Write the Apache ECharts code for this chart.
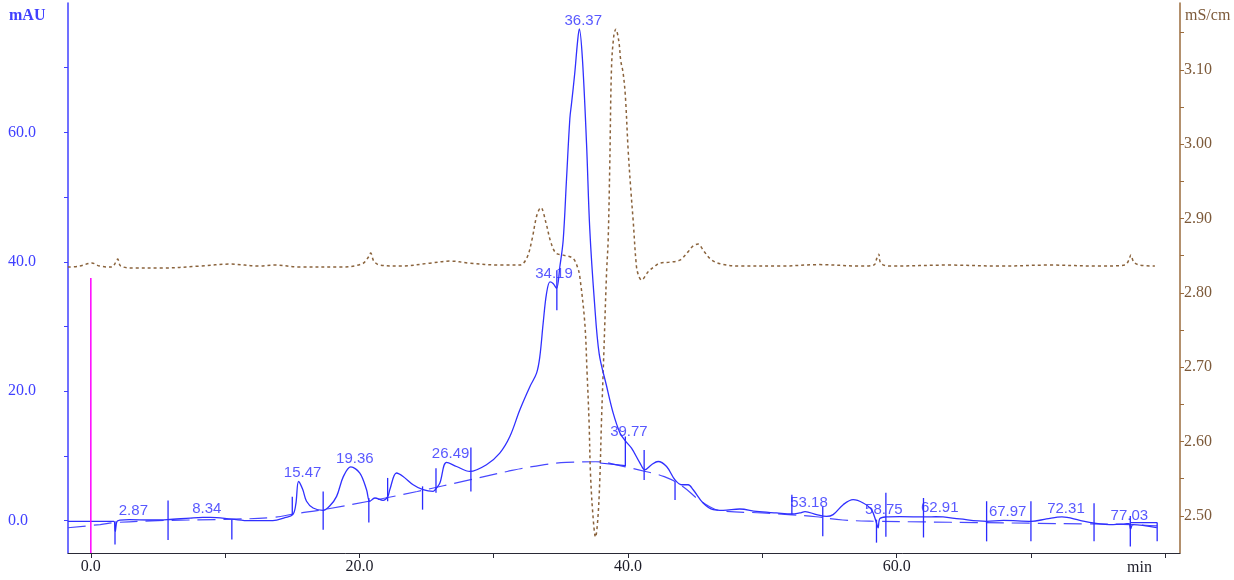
<!DOCTYPE html>
<html>
<head>
<meta charset="utf-8">
<script src="https://cdn.jsdelivr.net/npm/echarts@6/dist/echarts.min.js"></script>
<style>
  html, body { margin: 0; padding: 0; background: #ffffff; }
  #chart { width: 1234px; height: 580px; }
</style>
</head>
<body>
<div id="chart"></div>
<script>
// UV absorbance trace (min, mAU)
const uvTime = [-1.71, 1.71, 1.82, 1.94, 2.16, 2.87, 4.4, 5.7, 7.4, 8.34, 8.9, 10.5, 11.8, 13.55, 14.45, 15.04, 15.26, 15.47, 15.78, 16.06, 16.55, 17.3, 17.8, 18.3, 18.8, 19.36, 20.03, 20.53, 20.77, 21.15, 21.76, 22.11, 22.26, 22.76, 23.25, 24.0, 24.74, 25.49, 25.76, 25.99, 26.49, 27.23, 28.22, 29.46, 30.45, 31.2, 31.94, 32.69, 33.19, 33.43, 33.68, 33.93, 34.19, 34.42, 34.68, 34.92, 35.17, 35.42, 35.67, 35.79, 36.04, 36.24, 36.37, 36.6, 36.91, 37.15, 37.5, 37.85, 38.38, 38.89, 39.39, 39.77, 40.26, 40.88, 41.25, 41.75, 42.24, 42.87, 43.49, 43.98, 44.48, 44.85, 45.59, 46.34, 47.08, 48.32, 49.57, 51.06, 52.17, 52.79, 53.18, 54.04, 54.78, 55.27, 56.02, 56.76, 57.51, 58.13, 58.5, 58.62, 58.75, 59.19, 60.24, 62.25, 62.91, 63.46, 64.7, 66.69, 67.97, 70.04, 71.16, 72.31, 73.64, 74.63, 76.12, 77.03, 77.31, 77.42, 77.59, 79.37];
const uvSignal = [-0.1, -0.1, -1.65, -0.15, 0.08, 0.15, 0.1, 0.15, 0.4, 0.5, 0.5, 0.23, 0.0, 0.0, 0.46, 0.93, 2.5, 6.05, 4.8, 3.0, 1.96, 1.6, 2.3, 3.75, 6.8, 8.3, 7.36, 4.78, 2.98, 3.5, 3.13, 3.7, 4.78, 7.36, 6.83, 5.55, 4.78, 4.52, 5.1, 5.81, 9.0, 8.37, 7.6, 8.64, 10.44, 13.0, 17.1, 20.7, 22.8, 25.3, 30.5, 35.1, 36.9, 36.65, 35.9, 39.2, 43.3, 52.8, 62.2, 64.4, 69.3, 74.0, 76.0, 71.5, 58.3, 45.1, 33.8, 25.8, 21.0, 16.65, 13.6, 12.4, 11.2, 8.94, 7.86, 8.64, 9.14, 8.37, 6.32, 5.55, 5.55, 4.78, 2.73, 1.7, 1.59, 1.8, 1.43, 1.19, 1.03, 1.19, 1.4, 0.93, 0.66, 0.93, 2.47, 3.24, 2.73, 1.7, -0.35, -1.13, 0.3, 0.57, 0.62, 0.57, 0.6, 0.57, 0.26, -0.1, 0.05, -0.1, 0.26, 0.57, 0.05, -0.35, -0.62, -0.5, -0.46, -1.28, -0.62, -1.08];

// Integration baseline (min, mAU)
const baseTime = [-1.71, 0.7, 1.8, 5.0, 10.0, 13.5, 15.3, 17.3, 20.7, 24.3, 28.2, 31.0, 33.0, 35.4, 37.6, 39.8, 41.3, 42.7, 44.0, 45.5, 47.0, 50.0, 52.2, 54.0, 56.0, 58.5, 62.0, 66.0, 70.0, 74.0, 77.4, 79.4];
const baseSignal = [-1.1, -0.6, -0.3, 0.0, 0.2, 0.5, 1.1, 1.7, 3.0, 4.5, 6.3, 7.6, 8.4, 9.0, 9.1, 8.3, 7.6, 6.8, 5.4, 2.9, 1.5, 1.2, 0.9, 0.6, 0.1, -0.1, -0.2, -0.3, -0.4, -0.5, -0.6, -0.8];

// Peak drop-lines to the baseline: [start min, mAU, end min, mAU]
const dropSegments = [[37.9, 8.9, 39.8, 8.5], [77.45, -0.3, 79.4, -0.3]];

// Conductivity trace (min, mS/cm)
const condTime = [-1.71, -0.82, 0.07, 0.67, 1.56, 1.86, 2.0, 2.23, 3.28, 5.14, 8.12, 10.35, 12.58, 13.7, 15.56, 18.54, 20.17, 20.62, 20.84, 21.07, 21.52, 23.0, 25.24, 26.73, 28.2, 30.45, 31.94, 32.46, 32.84, 33.21, 33.51, 33.88, 34.25, 34.63, 35.17, 35.9, 36.26, 36.41, 36.78, 36.95, 37.1, 37.2, 37.38, 37.58, 37.75, 37.9, 38.02, 38.19, 38.4, 38.52, 38.64, 38.77, 38.94, 39.09, 39.31, 39.46, 39.63, 39.8, 40.01, 40.21, 40.38, 40.63, 40.8, 41.0, 41.5, 42.0, 42.37, 43.11, 43.86, 44.45, 44.83, 45.22, 45.64, 46.24, 46.98, 48.32, 51.3, 54.28, 57.26, 58.3, 58.53, 58.67, 58.82, 59.49, 63.96, 67.68, 71.41, 75.13, 76.99, 77.29, 77.44, 77.66, 78.11, 79.23];
const condValue = [2.8347, 2.8361, 2.8401, 2.836, 2.8347, 2.8414, 2.8454, 2.836, 2.8334, 2.8334, 2.836, 2.8387, 2.836, 2.8374, 2.8347, 2.8347, 2.8387, 2.8468, 2.8535, 2.8428, 2.8374, 2.836, 2.840, 2.8428, 2.840, 2.8374, 2.8374, 2.8468, 2.8709, 2.9044, 2.9147, 2.895, 2.8682, 2.8535, 2.8508, 2.8464, 2.8334, 2.8217, 2.7597, 2.6926, 2.6256, 2.5586, 2.5023, 2.4714, 2.4955, 2.5492, 2.6256, 2.7145, 2.8267, 2.8709, 2.9715, 3.1032, 3.1457, 3.1547, 3.139, 3.1122, 3.0965, 3.0653, 2.9916, 2.938, 2.8978, 2.8351, 2.8227, 2.8173, 2.8284, 2.836, 2.840, 2.8414, 2.8441, 2.8548, 2.8629, 2.8656, 2.8562, 2.8441, 2.8387, 2.836, 2.836, 2.838, 2.836, 2.8374, 2.8468, 2.852, 2.840, 2.836, 2.8374, 2.836, 2.8374, 2.836, 2.8374, 2.844, 2.8508, 2.8414, 2.8374, 2.836];

// Detected peaks: retention time (min) and apex height (mAU)
const peakTimes = [2.87, 8.34, 15.47, 19.36, 26.49, 34.19, 36.37, 39.77, 53.18, 58.75, 62.91, 67.97, 72.31, 77.03];
const peakHeights = [0.15, 0.5, 6.05, 8.3, 9.0, 36.9, 76.0, 12.4, 1.4, 0.3, 0.6, 0.05, 0.57, -0.5];

// Peak boundary markers: time (min), lower and upper end (mAU)
const markerTime = [1.8, 5.75, 10.5, 15.0, 17.3, 20.7, 22.1, 24.7, 25.7, 28.3, 34.7, 39.8, 41.2, 43.5, 52.2, 54.5, 58.5, 59.2, 62.0, 66.7, 70.0, 74.7, 77.4, 79.4];
const markerLow = [-3.7, -3.0, -2.9, 0.9, -1.4, -0.3, 3.0, 1.7, 4.3, 4.5, 32.5, 8.4, 6.3, 3.2, 1.0, -2.4, -3.4, -2.5, -2.6, -3.2, -3.2, -3.2, -4.0, -3.2];
const markerHigh = [-0.1, 3.1, 0.15, 3.7, 4.5, 3.5, 6.6, 5.3, 8.1, 11.3, 38.7, 13.0, 10.9, 6.1, 4.0, 2.2, 0.15, 4.3, 3.5, 3.0, 3.0, 2.7, 0.7, -0.3];

// Injection mark at t = 0
const injectionTime = 0;
const injectionTop = 37.5;

// Axis tick positions
const timeTicks = [0, 10, 20, 30, 40, 50, 60, 70, 80];
const timeLabels = [0, 20, 40, 60];
const uvTicks = [0, 10, 20, 30, 40, 50, 60, 70];
const uvLabels = [0, 20, 40, 60];
const condTicks = [2.50, 2.55, 2.60, 2.65, 2.70, 2.75, 2.80, 2.85, 2.90, 2.95, 3.00, 3.05, 3.10, 3.15];
const condLabels = [2.50, 2.60, 2.70, 2.80, 2.90, 3.00, 3.10];

const zip = (xs, ys) => xs.map((x, i) => [x, ys[i]]);

const BLUE = '#3030ff';
const BROWN = '#8a633c';
const SERIF = '"Liberation Serif", "Times New Roman", serif';

const chart = echarts.init(document.getElementById('chart'), null, { renderer: 'canvas' });

const dropSeries = dropSegments.map(s => ({
  type: 'line',
  yAxisIndex: 0,
  data: [[s[0], s[1]], [s[2], s[3]]],
  symbol: 'none',
  silent: true,
  lineStyle: { color: BLUE, width: 1.1 },
  z: 3
}));

chart.setOption({
  animation: false,
  backgroundColor: '#ffffff',
  grid: { left: 68, right: 54, top: 3, bottom: 27, containLabel: false, outerBoundsMode: 'none' },
  xAxis: {
    type: 'value',
    min: -1.7,
    max: 81.1,
    axisLine: { show: true, onZero: false, lineStyle: { color: '#2a2a36', width: 1 } },
    axisTick: { show: true, customValues: timeTicks, length: 5, lineStyle: { color: '#2a2a36' } },
    axisLabel: {
      customValues: timeLabels,
      formatter: v => v.toFixed(1),
      fontFamily: SERIF, fontSize: 16, color: '#1c1c28', margin: 6
    },
    splitLine: { show: false }
  },
  yAxis: [
    {
      type: 'value',
      position: 'left',
      min: -5,
      max: 80,
      axisLine: { show: true, onZero: false, lineStyle: { color: '#4040ff', width: 1.5 } },
      axisTick: { show: true, customValues: uvTicks, length: 4, lineStyle: { color: '#4040ff' } },
      axisLabel: {
        customValues: uvLabels,
        formatter: v => v.toFixed(1),
        fontFamily: SERIF, fontSize: 16, color: '#4040ff',
        align: 'left', margin: 60
      },
      splitLine: { show: false }
    },
    {
      type: 'value',
      position: 'right',
      min: 2.45,
      max: 3.19,
      axisLine: { show: true, onZero: false, lineStyle: { color: '#9a6b3c', width: 1.5 } },
      axisTick: { show: true, customValues: condTicks, length: 4, lineStyle: { color: '#9a6b3c' } },
      axisLabel: {
        customValues: condLabels,
        formatter: v => v.toFixed(2),
        fontFamily: SERIF, fontSize: 16, color: '#7d5a3a', margin: 4
      },
      splitLine: { show: false }
    }
  ],
  graphic: [
    { type: 'text', left: 9, top: 8, style: { text: 'mAU', font: 'bold 16px ' + SERIF, fill: '#4040ff' } },
    { type: 'text', left: 1185, top: 8, style: { text: 'mS/cm', font: '16px ' + SERIF, fill: '#7d5a3a' } },
    { type: 'text', left: 1127, top: 560, style: { text: 'min', font: '16px ' + SERIF, fill: '#1c1c28' } }
  ],
  series: [
    {
      name: 'baseline',
      type: 'line',
      yAxisIndex: 0,
      data: zip(baseTime, baseSignal),
      symbol: 'none',
      smooth: 0.4,
      silent: true,
      lineStyle: { color: '#4848ff', width: 1.2, type: [18, 8] },
      z: 2
    },
    {
      name: 'conductivity',
      type: 'line',
      yAxisIndex: 1,
      data: zip(condTime, condValue),
      symbol: 'none',
      smooth: 0.35,
      silent: true,
      lineStyle: { color: BROWN, width: 1.5, type: [3, 3] },
      z: 2
    },
    {
      name: 'UV',
      type: 'line',
      yAxisIndex: 0,
      data: zip(uvTime, uvSignal),
      symbol: 'none',
      smooth: 0.35,
      silent: true,
      lineStyle: { color: BLUE, width: 1.3 },
      z: 4
    },
    {
      name: 'injection',
      type: 'line',
      yAxisIndex: 0,
      data: [[injectionTime, -5], [injectionTime, injectionTop]],
      symbol: 'none',
      silent: true,
      lineStyle: { color: '#ff00ff', width: 1.5 },
      z: 5
    },
    ...dropSeries,
    {
      name: 'peak labels',
      type: 'scatter',
      yAxisIndex: 0,
      data: zip(peakTimes, peakHeights),
      symbolSize: 0,
      silent: true,
      label: {
        show: true,
        position: 'top',
        distance: 1,
        offset: [4, 0],
        formatter: p => p.value[0].toFixed(2),
        fontFamily: '"Liberation Sans", Arial, sans-serif',
        fontSize: 15,
        color: '#2e2eff'
      },
      z: 6
    },
    {
      name: 'peak markers',
      type: 'custom',
      yAxisIndex: 0,
      data: markerTime.map((t, i) => [t, markerLow[i], markerHigh[i]]),
      silent: true,
      renderItem: (params, api) => {
        const a = api.coord([api.value(0), api.value(1)]);
        const b = api.coord([api.value(0), api.value(2)]);
        return {
          type: 'line',
          shape: { x1: a[0], y1: a[1], x2: b[0], y2: b[1] },
          style: { stroke: '#2a2aff', lineWidth: 1.3 }
        };
      },
      z: 7
    }
  ]
});
</script>
</body>
</html>
